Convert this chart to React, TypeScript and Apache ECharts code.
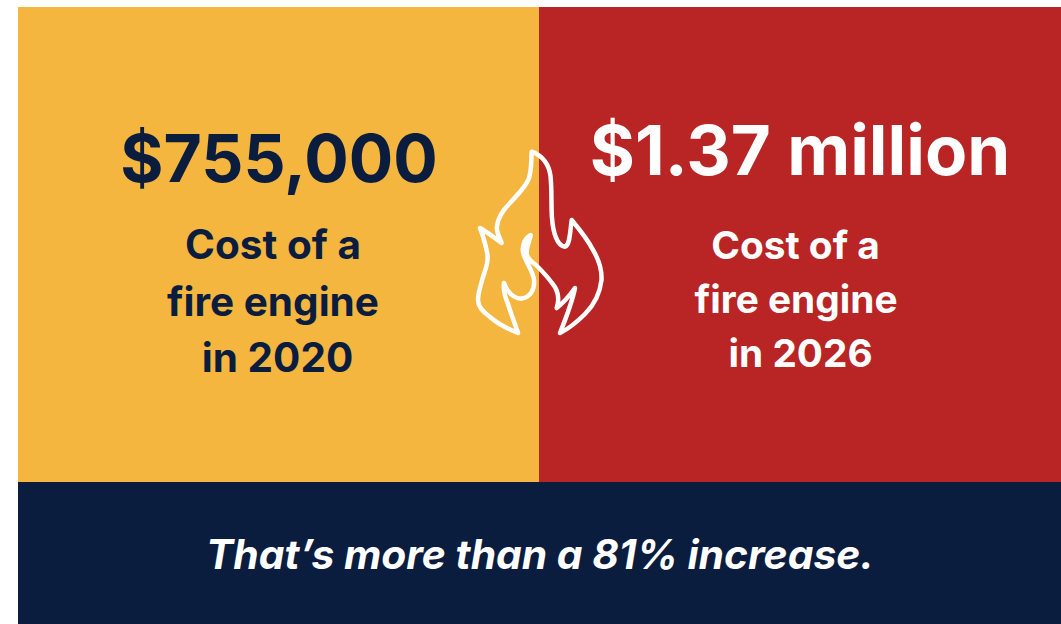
import React, { useEffect, useRef } from "react";
import * as echarts from "echarts";

const amounts = ["$755,000", "$1.37 million"];
const leftLines = ["Cost of a", "fire engine", "in 2020"];
const rightLines = ["Cost of a", "fire engine", " in 2026"];
const footer = "That’s more than a 81% increase.";

const flamePath =
  "M531.7 151.7 C543 156 549 165 550.5 176 C552 190 551 205 552 218 C553 232 557 246 565 246.7 C570 245 570 232 571.7 220 C580 230 588 240 593 250 C599 260 602 270 601.5 280 C600 293 594 305 585 314 C577 322 568 329 560 333 C566 318 572 303 575 288 C570 295 563 303 556.7 308 C560 298 558 290 552 283 C547 276 541 270 536 265 C530 261 526 257 526.7 251.7 C527 245 530 240 530.7 235 C525 238 522 245 523 252 C525 262 533 270 534 280 C535 290 530 297 522 298.5 C514 299 507 292 504 283 C503 290 505 297 508 304 C511 314 515 324 518 333 C508 329 498 324 490 317 C483 312 478 307 478 300 C478 292 481 285 483 277 C486 268 489 260 487 252 C485 243 483 235 480 228 C487 232 495 238 501.7 243 C499 236 496 232 497 226 C498 218 503 210 510 203 C517 195 526 187 529 178 C532 168 531 160 531.7 151.7 Z";

echarts.graphic.registerShape("flame", (echarts.graphic as any).extendPath(flamePath, {}));

export default function App() {
  const ref = useRef<HTMLDivElement>(null);
  useEffect(() => {
    document.body.style.margin = "0";
    const chart = echarts.init(ref.current!, null, { renderer: "svg" });
    const font = "Inter";
    const navy = "#0B1D3E";
    const line = (text: string, x: number, y: number, size: number, fill: string, extra: any = {}) => ({
      type: "text",
      x,
      y,
      style: { text, fill, font: `${extra.italic ? "italic " : ""}700 ${size}px ${font}`, textAlign: "center", textVerticalAlign: "middle" },
    });
    chart.setOption({
      animation: false,
      graphic: [
        { type: "rect", shape: { x: 18, y: 7, width: 521, height: 475 }, style: { fill: "#F4B63F" } },
        { type: "rect", shape: { x: 539, y: 7, width: 522, height: 475 }, style: { fill: "#B92424" } },
        { type: "rect", shape: { x: 18, y: 482, width: 1043, height: 142 }, style: { fill: navy } },
        line(amounts[0], 279, 158, 66, navy),
        line(amounts[1], 800, 150, 69, "#FFFFFF"),
        ...leftLines.map((t, i) => line(t, [273, 273, 277.5][i], [244, 301, 357][i], 40.5, navy)),
        ...rightLines.map((t, i) => line(t, [795.5, 796, 796][i], [244, 298, 352][i], 38.8, "#FFFFFF")),
        line(footer, 540, 554, 40.8, "#FFFFFF", { italic: true }),
        { type: "flame", style: { fill: "none", stroke: "#FFFFFF", lineWidth: 4.5, lineJoin: "round" } },
      ],
    });
    return () => chart.dispose();
  }, []);
  return <div ref={ref} style={{ width: 1061, height: 624 }} />;
}
